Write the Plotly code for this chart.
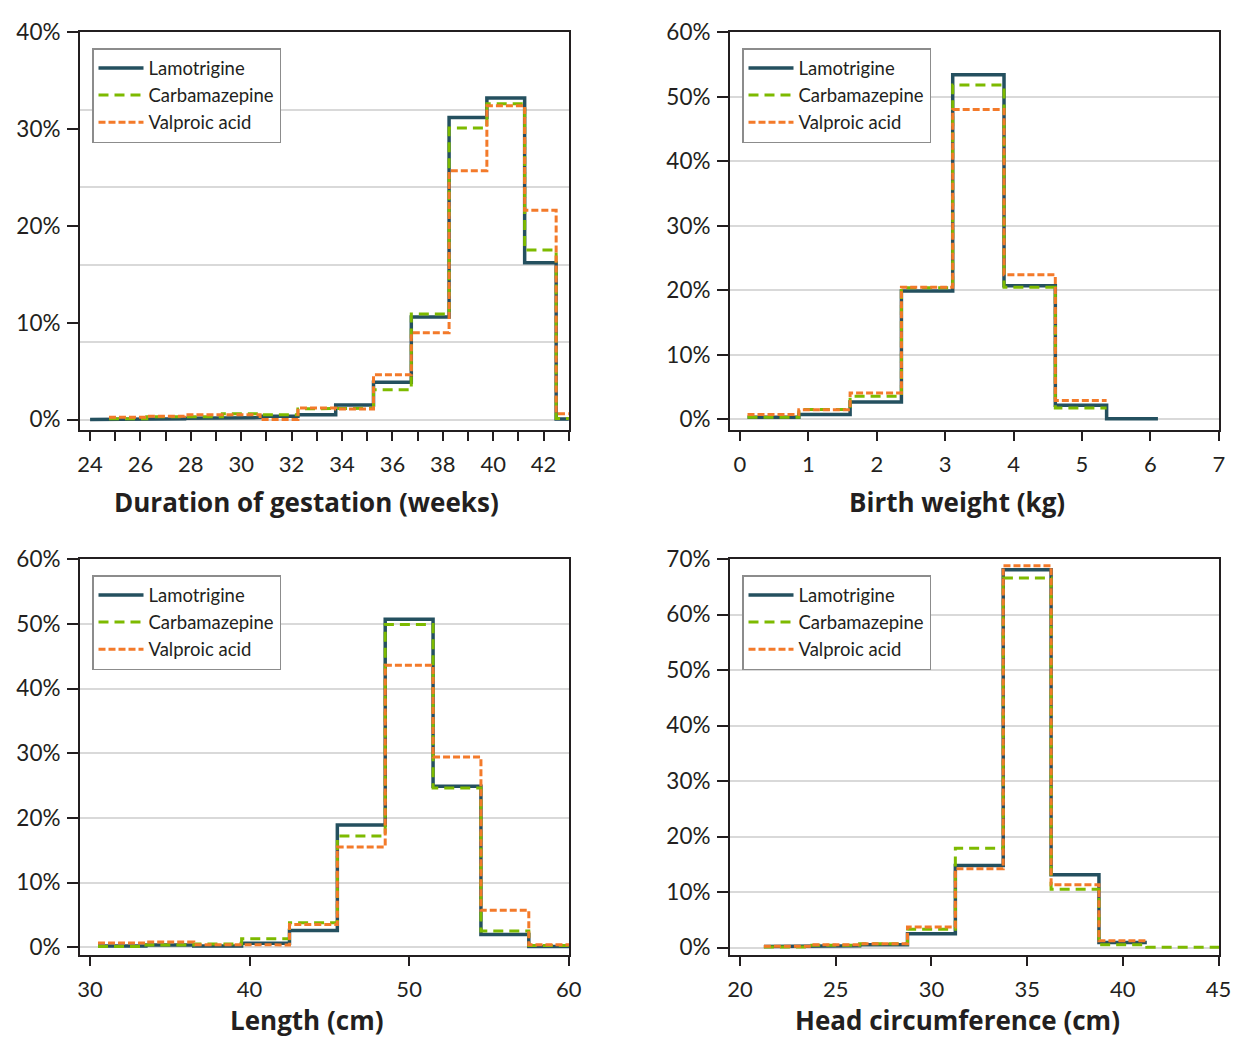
import plotly.graph_objects as go

# ---------------- data (percent of births per bin) ----------------
SERIES = ["Lamotrigine", "Carbamazepine", "Valproic acid"]

# Duration of gestation (weeks)
GEST_EDGES = [24.0, 24.75, 26.25, 27.75, 29.25, 30.75, 32.25, 33.75, 35.25,
              36.75, 38.25, 39.75, 41.25, 42.5, 43.0]
GEST_LAM = [0.0, 0.07, 0.07, 0.14, 0.2, 0.35, 0.5, 1.5, 3.86, 10.6, 31.2, 33.2, 16.2, 0.05]
GEST_CARB = [None, 0.07, 0.3, 0.3, 0.6, 0.5, 1.1, 1.17, 3.07, 10.9, 30.1, 32.6, 17.5, 0.1]
GEST_VALP = [None, 0.24, 0.35, 0.5, 0.5, 0.0, 1.2, 1.1, 4.62, 8.97, 25.7, 32.4, 21.6, 0.6]

# Birth weight (kg)
WT_EDGES = [0.11, 0.86, 1.61, 2.36, 3.11, 3.86, 4.61, 5.36, 6.11]
WT_LAM = [0.36, 0.78, 2.7, 19.9, 53.4, 20.7, 2.2, 0.1]
WT_CARB = [0.36, 1.55, 3.6, 20.4, 51.8, 20.5, 1.76, None]
WT_VALP = [0.78, 1.5, 4.1, 20.5, 48.0, 22.4, 2.95, None]

# Length (cm)
LEN_EDGES = [30.5, 33.5, 36.5, 39.5, 42.5, 45.5, 48.5, 51.5, 54.5, 57.5, 60.5]
LEN_LAM = [0.2, 0.36, 0.2, 0.6, 2.6, 18.9, 50.7, 24.9, 1.96, 0.1]
LEN_CARB = [0.1, 0.36, 0.5, 1.3, 3.8, 17.2, 49.9, 24.6, 2.5, 0.26]
LEN_VALP = [0.67, 0.8, 0.4, 0.36, 3.5, 15.5, 43.6, 29.4, 5.7, 0.4]

# Head circumference (cm)
HC_EDGES = [21.25, 23.75, 26.25, 28.75, 31.25, 33.75, 36.25, 38.75, 41.25, 43.75, 46.25]
HC_LAM = [0.18, 0.3, 0.5, 2.5, 14.8, 68.1, 13.1, 0.9, None, None]
HC_CARB = [0.1, 0.4, 0.7, 3.3, 17.9, 66.6, 10.5, 0.5, 0.05, 0.05]
HC_VALP = [0.24, 0.5, 0.66, 3.7, 14.2, 68.8, 11.3, 1.2, None, None]

X_TITLES = ["Duration of gestation (weeks)", "Birth weight (kg)",
            "Length (cm)", "Head circumference (cm)"]

# ---------------- styling ----------------
W, H = 1233, 1039
FONT = "Lato"
TITLE_FONT = "Open Sans"
INK = "#231f20"
GRID = "#d9d9d9"
COLORS = ["#24505f", "#7dba00", "#f37a2a"]
WIDTHS = [3.5, 3.0, 3.0]
DASHES = ["solid", "10px,6px", "7px,3px"]


def step_xy(edges, vals):
    xs, ys = [], []
    for i, v in enumerate(vals):
        if v is None:
            if xs and xs[-1] is not None:
                xs.append(None)
                ys.append(None)
            continue
        xs += [edges[i], edges[i + 1]]
        ys += [v, v]
    return xs, ys


panels = [
    dict(edges=GEST_EDGES, vals=[GEST_LAM, GEST_CARB, GEST_VALP],
         px=(80, 569), py=(32, 430), xr=[23.6, 43.01], yr=[-1.08, 40.02], tc=(306, 502)),
    dict(edges=WT_EDGES, vals=[WT_LAM, WT_CARB, WT_VALP],
         px=(730, 1219), py=(32, 430), xr=[-0.146, 7.003], yr=[-1.63, 60.02], tc=(957, 502)),
    dict(edges=LEN_EDGES, vals=[LEN_LAM, LEN_CARB, LEN_VALP],
         px=(80, 569), py=(559, 955), xr=[29.37, 60.02], yr=[-1.2, 60.02], tc=(306, 1020)),
    dict(edges=HC_EDGES, vals=[HC_LAM, HC_CARB, HC_VALP],
         px=(730, 1219), py=(559, 955), xr=[19.48, 45.02], yr=[-1.35, 70.02], tc=(957, 1020)),
]

fig = go.Figure()
layout = dict(width=W, height=H, margin=dict(l=0, r=0, t=0, b=0, pad=0), autosize=False,
              paper_bgcolor="white", plot_bgcolor="white",
              font=dict(family=FONT, color=INK), annotations=[])

for i, p in enumerate(panels):
    k = "" if i == 0 else str(i + 1)
    leg = "legend" if i == 0 else f"legend{i + 1}"
    for s, name in enumerate(SERIES):
        xs, ys = step_xy(p["edges"], p["vals"][s])
        fig.add_trace(go.Scatter(
            x=xs, y=ys, mode="lines", name=name, legend=leg,
            xaxis="x" + k, yaxis="y" + k, connectgaps=False,
            line=dict(color=COLORS[s], width=WIDTHS[s], dash=DASHES[s]),
            hoverinfo="skip"))

    xdom = [p["px"][0] / W, p["px"][1] / W]
    ydom = [1 - p["py"][1] / H, 1 - p["py"][0] / H]
    xa = dict(domain=xdom, anchor="y" + k, range=p["xr"], showgrid=False, zeroline=False,
              automargin=False,
              showline=True, linecolor=INK, linewidth=2, mirror=True,
              ticks="outside", ticklen=9, tickwidth=2, tickcolor=INK,
              tickfont=dict(family=FONT, size=22, color=INK), ticklabelstandoff=5)
    if i == 0:
        xa.update(tickmode="linear", tick0=24, dtick=2,
                  minor=dict(tickmode="linear", tick0=24, dtick=1, ticks="outside",
                             ticklen=9, tickwidth=2, tickcolor=INK, showgrid=False))
    elif i == 1:
        xa.update(tickmode="linear", tick0=0, dtick=1)
    elif i == 2:
        xa.update(tickmode="linear", tick0=30, dtick=10)
    else:
        xa.update(tickmode="linear", tick0=20, dtick=5)

    ya = dict(domain=ydom, anchor="x" + k, range=p["yr"], automargin=False,
              showline=True, linecolor=INK, linewidth=2, mirror=True,
              ticks="outside", ticklen=11, tickwidth=2, tickcolor=INK,
              tickmode="linear", tick0=0, dtick=10, ticksuffix="%",
              tickfont=dict(family=FONT, size=22.5, color=INK), ticklabelstandoff=2,
              showgrid=True, gridcolor=GRID, gridwidth=1.6, zeroline=False)
    if i == 0:
        ya.update(showgrid=False, zeroline=True, zerolinecolor=GRID, zerolinewidth=1.6,
                  minor=dict(tickmode="linear", tick0=0, dtick=8, ticks="",
                             showgrid=True, gridcolor=GRID, gridwidth=1.6))
    layout["xaxis" + k] = xa
    layout["yaxis" + k] = ya
    layout[leg] = dict(x=(p["px"][0] + 12) / W, y=1 - (p["py"][0] + 16) / H,
                       xanchor="left", yanchor="top", bgcolor="white",
                       bordercolor="#8c8c8c", borderwidth=1.5,
                       font=dict(family=FONT, size=18.5, color=INK),
                       tracegroupgap=0, itemwidth=45)
    layout["annotations"].append(dict(
        text=X_TITLES[i], xref="paper", yref="paper",
        x=p["tc"][0] / W, y=1 - p["tc"][1] / H, xanchor="center", yanchor="middle",
        showarrow=False,
        font=dict(family=TITLE_FONT, size=26, color=INK, weight=700)))

fig.update_layout(**layout)
fig.write_html("out.html", config={"displayModeBar": False},
               post_script="document.body.style.margin='0';document.body.style.overflow='hidden';")
